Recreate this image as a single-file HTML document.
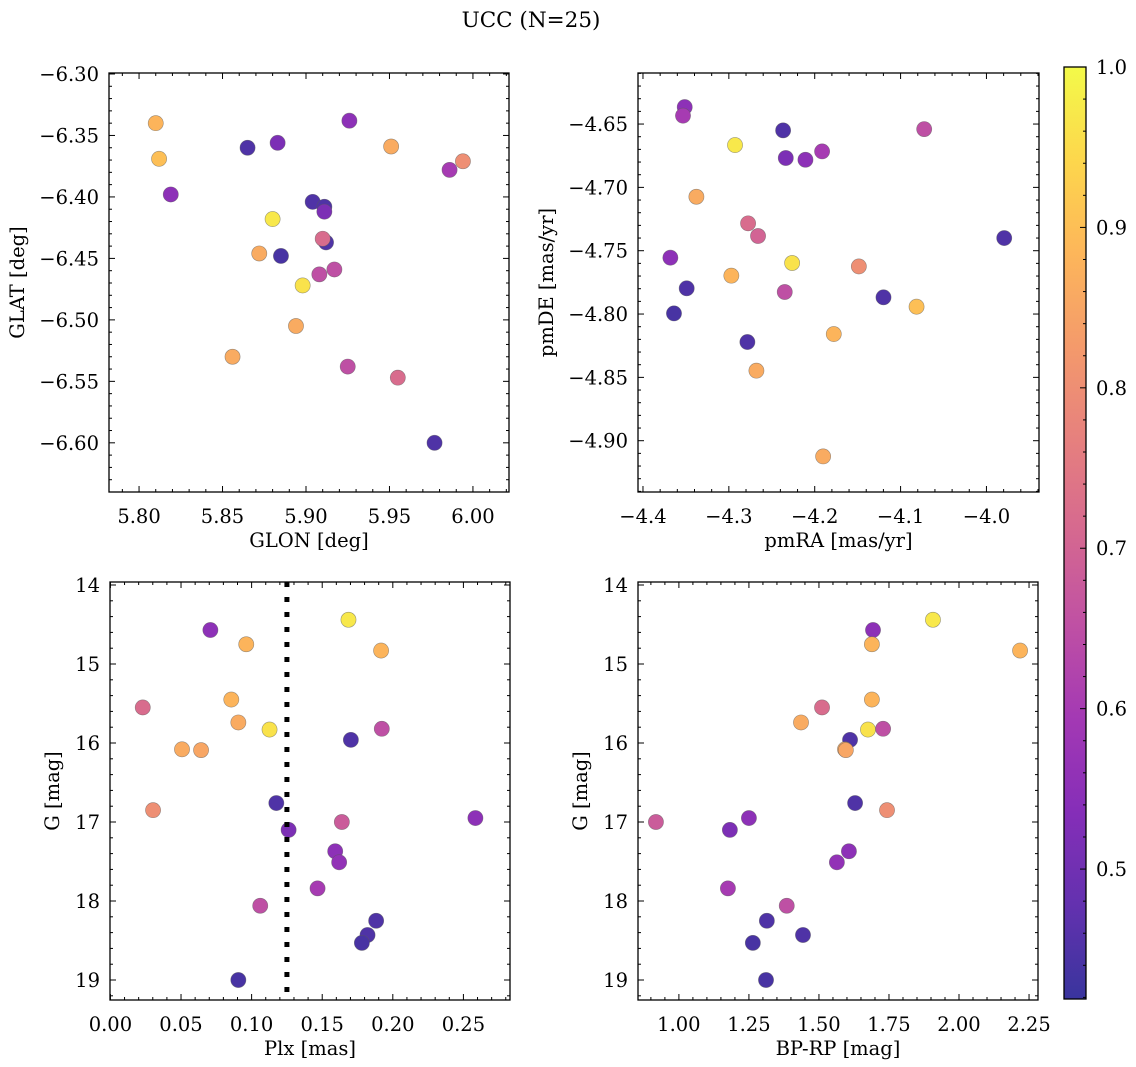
<!DOCTYPE html>
<html><head><meta charset="utf-8">
<style>
html,body{margin:0;padding:0;background:#fff;}
svg{display:block;font-family:"DejaVu Serif","Liberation Serif",serif;}
</style></head>
<body>
<svg id="fig" width="1136" height="1067" viewBox="0 0 1136 1067" xmlns="http://www.w3.org/2000/svg">
<defs>
<linearGradient id="cbgrad" x1="0" y1="1" x2="0" y2="0"></linearGradient>
</defs>
<text x="531" y="27" font-size="21.5" text-anchor="middle">UCC (N=25)</text>
</svg>
<script>
// ---- data ----
const prob = [0.55,0.88,0.97,0.88,0.72,0.88,0.86,0.96,0.65,0.45,0.86,0.85,0.8,0.45,0.52,0.68,0.55,0.55,0.56,0.6,0.65,0.45,0.45,0.44,0.44];
const plx = [0.0708,0.0962,0.1686,0.1917,0.0229,0.0856,0.0906,0.1127,0.1922,0.1703,0.0507,0.0642,0.0302,0.1175,0.1262,0.1639,0.2585,0.1592,0.162,0.1467,0.1061,0.1882,0.1821,0.1781,0.0906];
const gmag = [14.57,14.75,14.44,14.83,15.55,15.45,15.74,15.83,15.82,15.96,16.08,16.09,16.85,16.76,17.1,17.0,16.95,17.37,17.51,17.84,18.06,18.25,18.43,18.53,19.0];
const bprp = [1.693,1.689,1.907,2.218,1.511,1.689,1.436,1.675,1.729,1.611,1.593,1.596,1.743,1.629,1.182,0.918,1.25,1.607,1.564,1.175,1.385,1.314,1.443,1.264,1.311];

const glon = [5.810,5.812,5.819,5.865,5.883,5.926,5.951,5.994,5.986,5.904,5.911,5.911,5.880,5.912,5.910,5.872,5.885,5.917,5.908,5.898,5.894,5.856,5.925,5.955,5.977];
const glat = [-6.340,-6.369,-6.398,-6.360,-6.356,-6.338,-6.359,-6.371,-6.378,-6.404,-6.408,-6.412,-6.418,-6.437,-6.434,-6.446,-6.448,-6.459,-6.463,-6.472,-6.505,-6.530,-6.538,-6.547,-6.600];
const probPos = [0.88,0.9,0.55,0.45,0.52,0.55,0.86,0.8,0.6,0.45,0.45,0.52,0.97,0.45,0.72,0.86,0.44,0.65,0.65,0.96,0.86,0.86,0.65,0.72,0.45];

const pmra = [-4.3514,-4.3534,-4.2368,-4.0725,-4.2928,-4.2337,-4.2108,-4.1914,-4.3378,-4.2776,-4.266,-4.3681,-3.9793,-4.2263,-4.1486,-4.2971,-4.3491,-4.2349,-4.1199,-4.0814,-4.1778,-4.3639,-4.2784,-4.2679,-4.1902];
const pmde = [-4.6366,-4.6434,-4.655,-4.654,-4.6666,-4.6768,-4.6782,-4.6716,-4.7074,-4.7284,-4.7384,-4.7555,-4.74,-4.7597,-4.7624,-4.7697,-4.7797,-4.7826,-4.7868,-4.7942,-4.8158,-4.7995,-4.8221,-4.8447,-4.9124];
const probPm = [0.55,0.6,0.45,0.65,0.97,0.52,0.55,0.6,0.86,0.72,0.7,0.55,0.45,0.96,0.8,0.88,0.45,0.65,0.45,0.9,0.88,0.44,0.45,0.86,0.86];

const plxCut = 0.125;
const cbTicks = [0.5,0.6,0.7,0.8,0.9,1.0];
const cmin = 0.419, cmax = 1.0;

const NS = "http://www.w3.org/2000/svg";
const svg = document.getElementById('fig');
function el(tag, attrs, parent){const e=document.createElementNS(NS,tag);for(const k in attrs)e.setAttribute(k,attrs[k]);(parent||svg).appendChild(e);return e;}

const stops=[[13,8,135],[65,4,157],[106,0,168],[143,13,164],[177,42,144],[204,71,120],[225,100,98],[242,132,75],[252,166,54],[252,206,37],[240,249,33]];
function plasma(t){t=Math.max(0,Math.min(1,t));const f=t*10,i=Math.min(9,Math.floor(f)),r=f-i;const a=stops[i],b=stops[i+1];
 const c=a.map((v,k)=>v+(b[k]-v)*r);return c;}
function col(p){const c=plasma((p-cmin)/(cmax-cmin));const m=c.map(v=>Math.round(v*0.82+255*0.18));return `rgb(${m[0]},${m[1]},${m[2]})`;}

function fmt(v,d){const s=Math.abs(v).toFixed(d);return (v<-1e-9?'\u2212':'')+s;}

const FS=19.5;
function panel(name,box,xlim,ylim,xmaj,xmin,xdec,ymaj,ymin,ydec,xlabel,ylabel,xs,ys,ps){
 const g=el('g',{});
 
 
 const X=v=>box.x+(v-xlim[0])/(xlim[1]-xlim[0])*box.w;
 const Y=v=>box.y+(v-ylim[0])/(ylim[1]-ylim[0])*box.h;
 const xlo=Math.min(...xlim),xhi=Math.max(...xlim),ylo=Math.min(...ylim),yhi=Math.max(...ylim);
 const tg=el('g',{stroke:'#000','stroke-width':1},g);
 for(let k=Math.ceil(xlo/xmin-1e-6);k*xmin<=xhi+1e-9;k++){const v=k*xmin;const major=Math.abs(v/xmaj-Math.round(v/xmaj))<1e-6;const L=major?6:3;const px=X(v);
  el('line',{x1:px,x2:px,y1:box.y+box.h,y2:box.y+box.h-L},tg);el('line',{x1:px,x2:px,y1:box.y,y2:box.y+L},tg);
  if(major){const t=el('text',{x:px,y:box.y+box.h+31,'font-size':FS,'text-anchor':'middle',stroke:'none'},g);t.textContent=fmt(v,xdec);
   
   }}
 for(let k=Math.ceil(ylo/ymin-1e-6);k*ymin<=yhi+1e-9;k++){const v=k*ymin;const major=Math.abs(v/ymaj-Math.round(v/ymaj))<1e-6;const L=major?6:3;const py=Y(v);
  el('line',{y1:py,y2:py,x1:box.x,x2:box.x+L},tg);el('line',{y1:py,y2:py,x1:box.x+box.w,x2:box.x+box.w-L},tg);
  if(major){const t=el('text',{x:box.x-10,y:py+7,'font-size':FS,'text-anchor':'end',stroke:'none'},g);t.textContent=fmt(v,ydec);
   
   }}
 const xl=el('text',{x:box.x+box.w/2,y:box.y+box.h+55,'font-size':FS,'text-anchor':'middle'},g);xl.textContent=xlabel;
 
 
 const yx=box.x-(ydec>0?85:51);
 const yl=el('text',{x:yx,y:box.y+box.h/2,'font-size':FS,'text-anchor':'middle',transform:`rotate(-90 ${yx} ${box.y+box.h/2})`},g);yl.textContent=ylabel;
 
 
 const pg=el('g',{},g);
 for(let i=0;i<xs.length;i++){const c=el('circle',{cx:X(xs[i]),cy:Y(ys[i]),r:7.6,fill:col(ps[i]),stroke:'rgba(90,90,90,0.6)','stroke-width':0.6},pg);
  
  }
 const fr=el('rect',{x:box.x,y:box.y,width:box.w,height:box.h,fill:'none',stroke:'#000','stroke-width':1.3},g);
 
 
 return {X,Y,g};
}

panel('glon-glat-panel',{x:109,y:73,w:400,h:419},[5.782,6.0216],[-6.2992,-6.640],0.05,0.01,2,0.05,0.01,2,'GLON [deg]','GLAT [deg]',glon,glat,probPos);
panel('pm-panel',{x:638,y:73,w:401,h:419},[-4.4058,-3.9388],[-4.6097,-4.9405],0.1,0.02,1,0.05,0.01,2,'pmRA [mas/yr]','pmDE [mas/yr]',pmra,pmde,probPm);
const p3=panel('plx-g-panel',{x:110,y:582,w:400,h:418},[-0.0003,0.283],[13.962,19.253],0.05,0.01,2,1,0.2,0,'Plx [mas]','G [mag]',plx,gmag,prob);
const cut=el('line',{x1:p3.X(plxCut),x2:p3.X(plxCut),y1:582,y2:1000,stroke:'#000','stroke-width':5,'stroke-dasharray':'5 10'},p3.g);


panel('cmd-panel',{x:638,y:582,w:400,h:418},[0.854,2.282],[13.962,19.253],0.25,0.05,2,1,0.2,0,'BP-RP [mag]','G [mag]',bprp,gmag,prob);

// colorbar
const grad=document.getElementById('cbgrad');
for(let i=0;i<=20;i++){const t=i/20;const p=cmin+t*(cmax-cmin);el('stop',{offset:t,'stop-color':col(p)},grad);}
const cb={x:1064,y:67,w:22,h:932};
const cg=el('g',{});


el('rect',{x:cb.x,y:cb.y,width:cb.w,height:cb.h,fill:'url(#cbgrad)'},cg);
const CY=v=>cb.y+(cmax-v)/(cmax-cmin)*cb.h;
for(let k=Math.ceil(cmin/0.02);k*0.02<=cmax+1e-9;k++){const v=k*0.02;const py=CY(v);const major=Math.abs(v*10-Math.round(v*10))<1e-6;
 el('line',{x1:cb.x+cb.w,x2:cb.x+cb.w-(major?6:3),y1:py,y2:py,stroke:'#000','stroke-width':1},cg);}
for(const v of cbTicks){const t=el('text',{x:cb.x+cb.w+10,y:CY(v)+7,'font-size':FS},cg);t.textContent=v.toFixed(1);
 
 }
el('rect',{x:cb.x,y:cb.y,width:cb.w,height:cb.h,fill:'none',stroke:'#000','stroke-width':1.3},cg);
</script>
</body></html>
